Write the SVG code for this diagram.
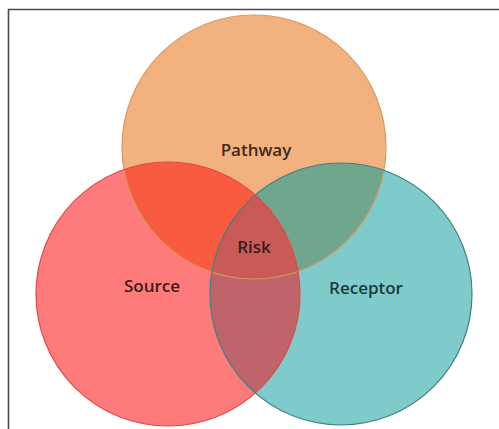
<svg xmlns="http://www.w3.org/2000/svg" width="499" height="429" viewBox="0 0 499 429">
  <style>
    .lbl { font-family: "Open Sans", "Noto Sans", sans-serif; font-size: 17px; font-weight: 600; text-anchor: middle; }
    .edge { fill: none; stroke-width: 1.2; }
  </style>
  <defs>
    <clipPath id="clipP"><circle cx="254" cy="147" r="132"/></clipPath>
    <clipPath id="clipS"><circle cx="168" cy="294" r="132"/></clipPath>
    <clipPath id="clipR"><circle cx="341" cy="294" r="131"/></clipPath>
  </defs>
  <rect x="0" y="0" width="499" height="429" fill="#ffffff"/>
  <path d="M8.5 429 V9.5 H499" fill="none" stroke="#4a4a4a" stroke-width="1.6"/>

  <g id="pathway">
    <circle cx="254" cy="147" r="132" fill="#F2B27F"/>
  </g>
  <g id="source">
    <circle cx="168" cy="294" r="132" fill="#FF7B7B"/>
  </g>
  <g id="receptor">
    <circle cx="341" cy="294" r="131" fill="#7FCBCC"/>
  </g>

  <g id="overlaps">
    <g clip-path="url(#clipP)">
      <circle cx="168" cy="294" r="132" fill="#F95B40"/>
      <circle cx="341" cy="294" r="131" fill="#6FA68D"/>
    </g>
    <g clip-path="url(#clipS)">
      <circle cx="341" cy="294" r="131" fill="#C0636B"/>
    </g>
    <g clip-path="url(#clipS)">
      <g clip-path="url(#clipR)">
        <circle cx="254" cy="147" r="132" fill="#C95A57"/>
      </g>
    </g>
  </g>

  <g id="edges">
    <circle class="edge" cx="254" cy="147" r="132" stroke="#D9985F"/>
    <circle class="edge" cx="168" cy="294" r="132" stroke="#E2474A"/>
    <circle class="edge" cx="341" cy="294" r="131" stroke="#3F8084"/>
  </g>

  <g id="connectors"/>

  <g id="labels">
    <text class="lbl" x="256" y="156" fill="#3E2A1C">Pathway</text>
    <text class="lbl" x="254" y="253" fill="#3A1A1E">Risk</text>
    <text class="lbl" x="152" y="292" fill="#3A1A1E">Source</text>
    <text class="lbl" x="366" y="294" fill="#173A3C">Receptor</text>
  </g>
</svg>
